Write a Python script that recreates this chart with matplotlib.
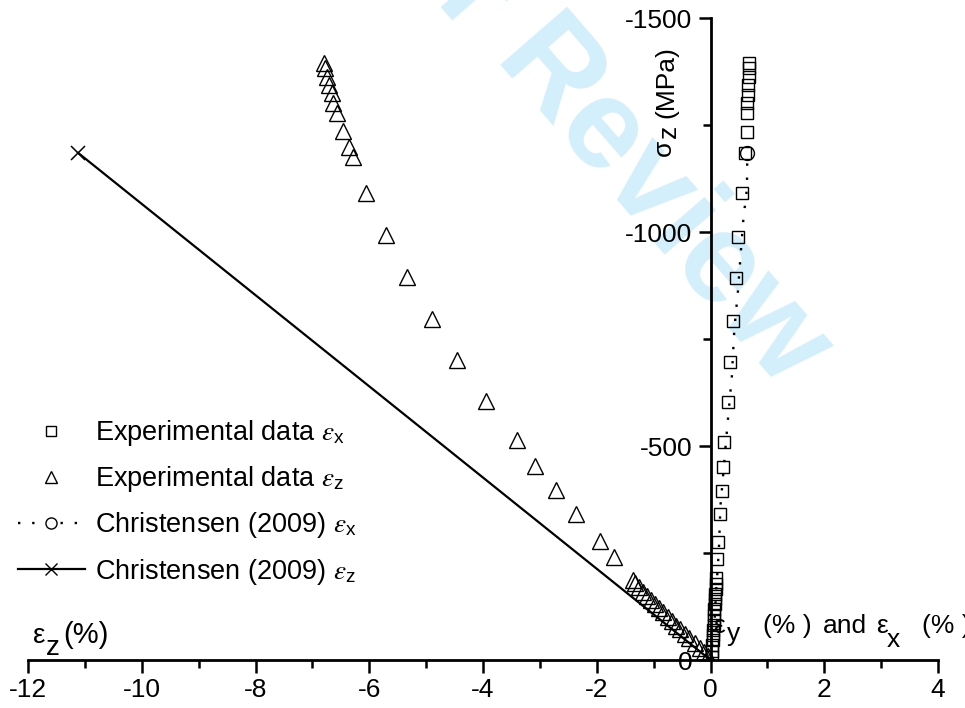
import matplotlib
matplotlib.use('Agg')
import matplotlib.pyplot as plt
from matplotlib.lines import Line2D
from matplotlib.font_manager import FontProperties
from matplotlib.ticker import MultipleLocator

plt.rcParams['font.family'] = ['Liberation Sans', 'DejaVu Sans']
plt.rcParams['axes.unicode_minus'] = False

W, H = 965, 708

# experimental lateral strain eps_x (%) vs axial stress sigma_z (MPa)
exp_ex = [0.67, 0.67, 0.67, 0.66, 0.66, 0.65, 0.65, 0.633, 0.615, 0.56, 0.49,
          0.457, 0.387, 0.35, 0.30, 0.246, 0.228, 0.199, 0.17, 0.14, 0.12,
          0.10, 0.095, 0.09, 0.085, 0.08, 0.075, 0.07, 0.065, 0.06, 0.055,
          0.05, 0.045, 0.04, 0.03, 0.025, 0.02]
exp_ex_s = [-1395, -1383, -1362, -1343, -1320, -1301, -1278, -1234, -1185,
            -1091, -988, -893, -792, -696, -603, -509, -452, -396, -340, -276,
            -236, -191, -178, -166, -154, -142, -130, -118, -106, -94, -82,
            -70, -58, -46, -34, -22, -8]

# experimental axial strain eps_z (%)
exp_ez = [-6.80, -6.78, -6.75, -6.71, -6.66, -6.63, -6.56, -6.47, -6.36, -6.29,
          -6.05, -5.71, -5.34, -4.90, -4.45, -3.95, -3.41, -3.08, -2.72, -2.37,
          -1.95, -1.70, -1.37, -1.32, -1.25, -1.19, -1.12, -1.04, -0.97, -0.90,
          -0.83, -0.75, -0.67, -0.60, -0.53, -0.44, -0.37, -0.28, -0.19, -0.12,
          -0.05]
exp_ez_s = [-1395, -1383, -1362, -1343, -1325, -1301, -1278, -1236, -1199,
            -1175, -1091, -993, -895, -797, -701, -605, -514, -453, -397, -341,
            -278, -241, -187, -179, -170, -160, -150, -140, -130, -121, -111,
            -101, -90, -80, -72, -61, -51, -39, -27, -19, -9]

# Christensen (2009) predictions
chr_ex = [0.0, 0.07, 0.10, 0.146, 0.175, 0.21, 0.30, 0.375, 0.42, 0.48, 0.54,
          0.59, 0.627, 0.645, 0.645]
chr_ex_s = [0, -86, -164, -253, -360, -413, -553, -662, -775, -857, -966,
            -1050, -1075, -1133, -1185]
chr_ez = [0.0, -11.12]
chr_ez_s = [0, -1185]

fig = plt.figure(figsize=(W / 100, H / 100), dpi=100)
ax = fig.add_axes([28 / W, 48 / H, 910 / W, 642 / H])
ax.patch.set_visible(False)


def put(x, y, s, **kw):
    # x, y in pixels from the top-left corner of the figure
    kw.setdefault('fontsize', 19)
    kw.setdefault('va', 'baseline')
    kw.setdefault('ha', 'left')
    return fig.text(x / W, 1 - y / H, s, **kw)


# watermark behind everything
wm = dict(rotation=-49, rotation_mode='anchor', fontsize=92,
          fontweight='bold', color='#d3effb', zorder=-1)
put(490, 64, 'Review', **wm)
put(490, 64, 'For ', ha='right', **wm)

ax.plot(chr_ex, chr_ex_s, color='k', ls=(0, (1, 5)), lw=1.7, zorder=2)
ax.plot(chr_ex[-1], chr_ex_s[-1], ls='none', marker='o', ms=10, mfc='none',
        mec='k', mew=1.0, zorder=3)
ax.plot(chr_ez, chr_ez_s, color='k', lw=1.6, zorder=2)
ax.plot(chr_ez[-1], chr_ez_s[-1], ls='none', marker='x', ms=10, mec='k',
        mew=1.1, zorder=3)

ax.plot(exp_ex, exp_ex_s, ls='none', marker='s', ms=8.5, mfc='none', mec='k',
        mew=1.0, zorder=4)
ax.plot(exp_ez, exp_ez_s, ls='none', marker='^', ms=12, mfc='none', mec='k',
        mew=1.0, zorder=4)

ax.set_xlim(-12, 4)
ax.set_ylim(0, -1500)
ax.spines['left'].set_position(('data', 0))
ax.spines['top'].set_visible(False)
ax.spines['right'].set_visible(False)
for s in ('left', 'bottom'):
    ax.spines[s].set_linewidth(2.0)
ax.xaxis.set_major_locator(MultipleLocator(2))
ax.xaxis.set_minor_locator(MultipleLocator(1))
ax.yaxis.set_major_locator(MultipleLocator(500))
ax.yaxis.set_minor_locator(MultipleLocator(250))
ax.tick_params(which='major', direction='out', length=9, width=1.8,
               labelsize=19, pad=4)
ax.tick_params(which='minor', direction='out', length=6, width=1.8)

# axis titles, subscripts kept at full size
rot = dict(rotation=90, rotation_mode='anchor')
put(671, 156, 'σ', **rot)
put(676, 138, 'z', **rot)
put(673, 118, '(MPa)', **rot)

put(33, 643, 'ε', fontsize=20)
put(46, 655, 'z', fontsize=20)
put(63, 643, '(%)', fontsize=21)

put(713, 633, 'ε')
put(727, 641, 'y')
put(763, 633, '(% )')
put(823, 633, 'and')
put(876, 633, 'ε')
put(887, 647, 'x')
put(922, 633, '(% )')

handles = [
    Line2D([], [], ls='none', marker='s', ms=7, mfc='none', mec='k', mew=1.0),
    Line2D([], [], ls='none', marker='^', ms=8, mfc='none', mec='k', mew=1.0),
    Line2D([], [], color='k', ls=(0, (1, 5)), lw=1.7, marker='o', ms=8,
           mfc='white', mec='k', mew=1.0),
    Line2D([], [], color='k', lw=1.6, marker='x', ms=8, mec='k', mew=1.0),
]
labels = [r'Experimental data $\varepsilon_{\mathregular{x}}$',
          r'Experimental data $\varepsilon_{\mathregular{z}}$',
          r'Christensen (2009) $\varepsilon_{\mathregular{x}}$',
          r'Christensen (2009) $\varepsilon_{\mathregular{z}}$']
leg_font = FontProperties(family='Liberation Sans', size=19.5,
                          math_fontfamily='stix')
ax.legend(handles, labels, loc='upper left', prop=leg_font, frameon=False,
          bbox_to_anchor=(18 / W, 1 - 418 / H),
          bbox_transform=fig.transFigure, borderpad=0, borderaxespad=0,
          handlelength=2.47, handletextpad=0.37, labelspacing=0.6)

fig.savefig('out.png', dpi=100)
